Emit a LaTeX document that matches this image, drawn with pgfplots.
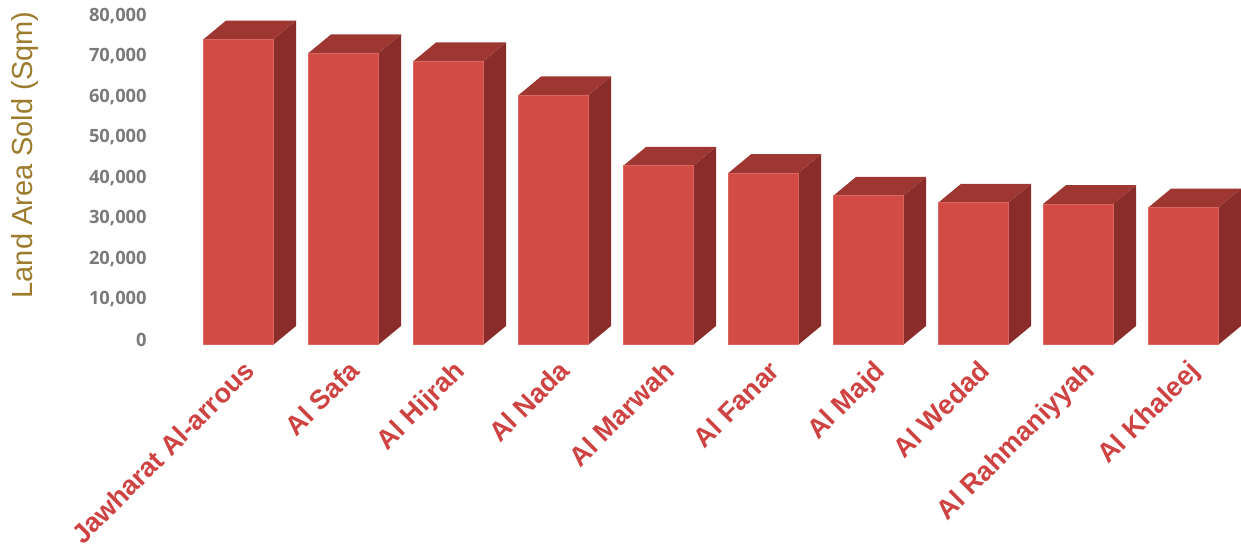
\documentclass[border=0pt]{standalone}
\usepackage{pgfplots}
\pgfplotsset{compat=1.18}
\usepackage{pgfplotstable}
\usepackage{fontspec}
\setmainfont{Liberation Sans}
\newfontfamily\tickfont{Open Sans}
\definecolor{frontcol}{HTML}{D24B45}
\definecolor{sidecol}{HTML}{8A2D2A}
\definecolor{topcol}{HTML}{9E3732}
\definecolor{labred}{HTML}{CF4242}
\definecolor{tickgray}{HTML}{7A7A7A}
\definecolor{ylabcol}{HTML}{9C7C2C}

\pgfplotstableread{
x v
0 75400
1 72000
2 70000
3 61600
4 44200
5 42400
6 36800
7 35100
8 34800
9 33900
}\datatable

\def\hw{0.3333}
\def\ddx{0.219}

\begin{document}
\begin{tikzpicture}
\begin{axis}[
  name=ax,
  scale only axis,
  width=652.8pt, height=207pt,
  xmin=-0.81, xmax=9.552,
  ymin=0, ymax=85185,
  clip=false,
  axis line style={draw=none},
  major tick length=0pt,
  ytick={0,10000,...,80000},
  scaled y ticks=false,
  yticklabel style={/pgf/number format/.cd, fixed, 1000 sep={,}, assume math mode=true, /tikz/.cd,
    font=\tickfont\bfseries\fontsize{11}{12}\selectfont, text=tickgray, inner sep=0pt, yshift=3pt},
  yticklabel shift=3.6pt,
  xtick={0.04,1.04,2.04,3.04,4.04,5.04,6.04,7.04,8.04,9.04},
  xticklabels={Jawharat Al-arrous, Al Safa, Al Hijrah, Al Nada, Al Marwah, Al Fanar, Al Majd, Al Wedad, Al Rahmaniyyah, Al Khaleej},
  xticklabel shift=8pt,
  xticklabel style={rotate=45, anchor=north east, inner sep=0pt,
    font=\bfseries\fontsize{16.2}{18}\selectfont, text=labred},
  ylabel={Land Area Sold (Sqm)},
  ylabel style={at={(axis description cs:-0.1176,0.551)}, anchor=center,
    font=\fontsize{17.4}{19}\selectfont, text=ylabcol},
]
\pgfplotsinvokeforeach{0,...,9}{
  \pgfplotstablegetelem{#1}{v}\of\datatable
  \edef\vv{\pgfplotsretval}
  \edef\vt{\the\numexpr\pgfplotsretval+4700\relax}
  \pgfmathsetmacro\xl{#1-\hw}
  \pgfmathsetmacro\xr{#1+\hw}
  \pgfmathsetmacro\xlb{#1-\hw+\ddx}
  \pgfmathsetmacro\xrb{#1+\hw+\ddx}
  \edef\temp{%
    \noexpand\addplot[draw=none, fill=sidecol, forget plot] coordinates {(\xr,0) (\xrb,4700) (\xrb,\vt) (\xr,\vv)};
    \noexpand\addplot[draw=none, fill=topcol, forget plot] coordinates {(\xl,\vv) (\xr,\vv) (\xrb,\vt) (\xlb,\vt)};
  }
  \temp
}
\addplot[ybar, bar width=0.6667, fill=frontcol, draw=frontcol!85!white, line width=0.6pt] table[x=x, y=v]{\datatable};
\end{axis}
\pgfresetboundingbox
\useasboundingbox ([xshift=-91.8pt,yshift=-123pt]ax.south west) rectangle (ax.north east);
\end{tikzpicture}
\end{document}
